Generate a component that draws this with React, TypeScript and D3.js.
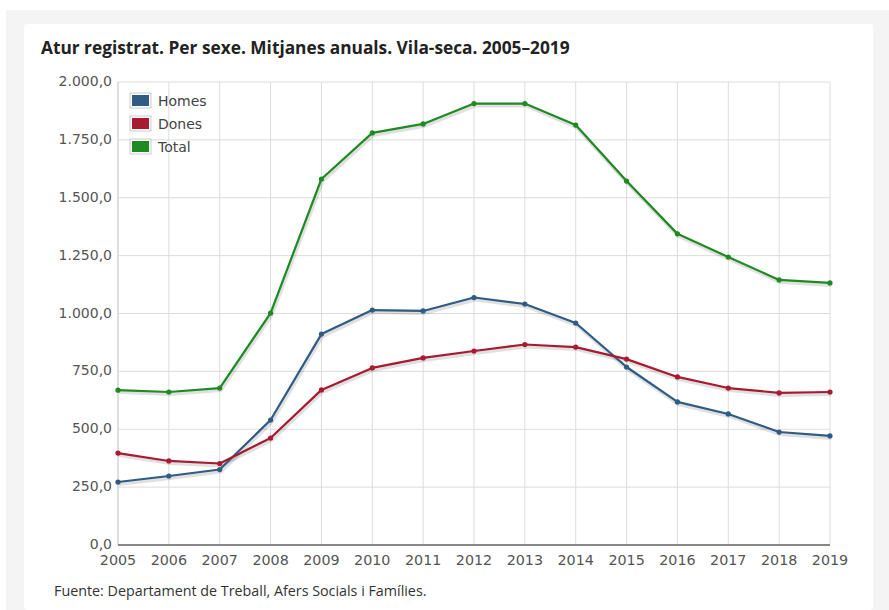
import React from "react";
import * as d3 from "d3";

const years = [2005, 2006, 2007, 2008, 2009, 2010, 2011, 2012, 2013, 2014, 2015, 2016, 2017, 2018, 2019];
const homes = [272, 298, 326, 540, 911, 1015, 1011, 1069, 1041, 959, 769, 618, 566, 488, 471];
const dones = [397, 363, 352, 462, 670, 765, 808, 838, 866, 855, 803, 726, 678, 657, 661];
const total = [669, 661, 678, 1002, 1581, 1780, 1819, 1907, 1907, 1814, 1572, 1344, 1244, 1145, 1132];
const yTicks = [0, 250, 500, 750, 1000, 1250, 1500, 1750, 2000];
const seriesNames = ["Homes", "Dones", "Total"];
const seriesColors = ["#2f5b84", "#a81a30", "#1e8a22"];

const W = 889;
const H = 610;
const left = 118;
const right = 830;
const top = 82;
const bottom = 545;

const fmt = (v: number) => {
  const s = d3.format(",.1f")(v);
  return s.replace(/,/g, "#").replace(/\./g, ",").replace(/#/g, ".");
};

export default function App() {
  const x = d3.scaleLinear().domain([2005, 2019]).range([left, right]);
  const y = d3.scaleLinear().domain([0, 2000]).range([bottom, top]);
  const series = [homes, dones, total];
  const line = d3
    .line<number>()
    .x((_, i) => x(years[i]))
    .y((d) => y(d));
  const axisFont = "'DejaVu Sans', Verdana, sans-serif";
  const textFont = "'Open Sans', sans-serif";

  return (
    <div style={{ position: "fixed", left: 0, top: 0 }}>
      <svg width={W} height={H} style={{ display: "block" }}>
        <rect x={0} y={0} width={W} height={H} fill="#ffffff" />
        <rect x={6} y={10} width={W - 6} height={H - 10} fill="#f4f4f4" />
        <rect x={24} y={24} width={849} height={H - 24} fill="#ffffff" rx={3} />
        <text x={41} y={54} fontFamily={textFont} fontWeight={700} fontSize={17.3} fill="#222">
          Atur registrat. Per sexe. Mitjanes anuals. Vila-seca. 2005–2019
        </text>
        {/* grid */}
        {yTicks.map((t) => (
          <line key={"gy" + t} x1={left} x2={right} y1={y(t)} y2={y(t)} stroke="#dcdcdc" strokeWidth={1} />
        ))}
        {years.map((yr) => (
          <line key={"gx" + yr} x1={x(yr)} x2={x(yr)} y1={top} y2={bottom} stroke="#dcdcdc" strokeWidth={1} />
        ))}
        <line x1={left} x2={left} y1={top} y2={bottom} stroke="#cfcfcf" strokeWidth={1} />
        <line x1={left} x2={right} y1={bottom} y2={bottom} stroke="#888" strokeWidth={2} />
        {yTicks.map((t) => (
          <text
            key={"ty" + t}
            x={left - 6}
            y={y(t) + 4}
            textAnchor="end"
            fontFamily={axisFont}
            fontSize={14}
            fill="#555"
          >
            {fmt(t)}
          </text>
        ))}
        {years.map((yr) => (
          <text
            key={"tx" + yr}
            x={x(yr)}
            y={bottom + 20}
            textAnchor="middle"
            fontFamily={axisFont}
            fontSize={14.3}
            fill="#555"
          >
            {yr}
          </text>
        ))}
        {/* shadows */}
        {series.map((s, i) => (
          <path
            key={"sh" + i}
            d={line(s) || ""}
            transform="translate(1,2)"
            fill="none"
            stroke="#000"
            strokeOpacity={0.12}
            strokeWidth={4}
            strokeLinejoin="round"
          />
        ))}
        {series.map((s, i) => (
          <g key={"s" + i}>
            <path d={line(s) || ""} fill="none" stroke={seriesColors[i]} strokeWidth={2.2} strokeLinejoin="round" />
            {s.map((v, j) => (
              <circle key={j} cx={x(years[j])} cy={y(v)} r={2.6} fill={seriesColors[i]} />
            ))}
          </g>
        ))}
        {/* legend */}
        {seriesNames.map((n, i) => (
          <g key={"lg" + n} transform={`translate(130, ${93 + i * 23})`}>
            <rect x={0} y={0} width={21} height={15} fill="#fff" stroke="#ccc" strokeWidth={1} />
            <rect x={2} y={2} width={17} height={11} fill={seriesColors[i]} />
            <text x={28} y={12.5} fontFamily={axisFont} fontSize={14} fill="#444">
              {n}
            </text>
          </g>
        ))}
        <text x={54} y={596} fontFamily={textFont} fontSize={14.3} fill="#333">
          Fuente: Departament de Treball, Afers Socials i Famílies.
        </text>
      </svg>
    </div>
  );
}
